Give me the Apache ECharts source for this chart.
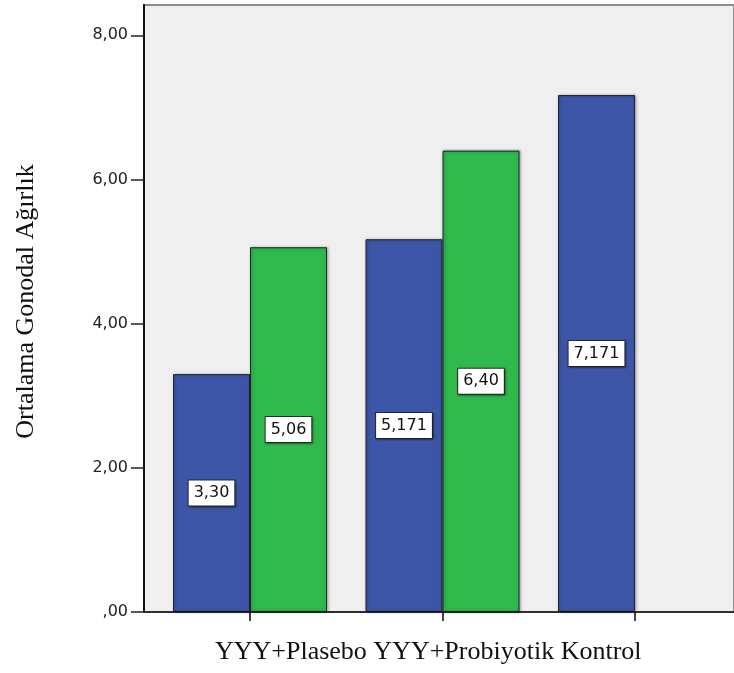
<!DOCTYPE html>
<html>
<head>
<meta charset="utf-8">
<script src="https://cdn.jsdelivr.net/npm/echarts@6/dist/echarts.min.js"></script>
<style>
  html, body { margin: 0; padding: 0; background: #ffffff; }
  #chart { width: 734px; height: 673px; }
</style>
</head>
<body>
<div id="chart"></div>
<script>
// Group names along the horizontal axis
const categories = ['YYY+Plasebo', 'YYY+Probiyotik', 'Kontrol'];
// Mean gonadal weight per group, as printed in the bar labels
const blueLabels = ['3,30', '5,171', '7,171'];
const greenLabels = ['5,06', '6,40', null];
// Vertical axis ticks
const yTickValues = [0, 2, 4, 6, 8];
const yTickLabels = [',00', '2,00', '4,00', '6,00', '8,00'];
const yMax = 8.42;
const yTitle = 'Ortalama Gonodal Ağırlık';

const toNum = s => (s === null ? null : Number(s.replace(',', '.')));
const blueValues = blueLabels.map(toNum);
const greenValues = greenLabels.map(toNum);

const chart = echarts.init(document.getElementById('chart'));

const labelStyle = labels => ({
  show: true,
  position: 'inside',
  formatter: p => labels[p.dataIndex] || '',
  color: '#111',
  fontFamily: 'DejaVu Sans',
  fontSize: 16,
  backgroundColor: '#ffffff',
  borderColor: '#2a2a2a',
  borderWidth: 1,
  padding: [5, 5, 4, 5],
  shadowColor: 'rgba(0,0,0,0.35)',
  shadowBlur: 2,
  shadowOffsetX: 1,
  shadowOffsetY: 1
});

const barItem = color => ({
  color: color,
  borderColor: '#1e2433',
  borderWidth: 1,
  shadowColor: 'rgba(0,0,0,0.35)',
  shadowBlur: 3,
  shadowOffsetX: 1
});

chart.setOption({
  animation: false,
  title: {
    text: categories.join(' '),
    left: 210,
    top: 634,
    textStyle: {
      fontFamily: 'Liberation Serif',
      fontSize: 26,
      fontWeight: 'normal',
      color: '#111'
    }
  },
  grid: [
    {
      left: 144, right: -2, top: 5, bottom: 61,
      show: true,
      backgroundColor: '#efefef',
      borderColor: '#8c8c8c',
      borderWidth: 2
    },
    { left: 153.75, width: 577.5, top: 5, bottom: 61 }
  ],
  xAxis: [
    {
      gridIndex: 0, type: 'category', data: categories,
      axisLine: { lineStyle: { color: '#111', width: 1.5 } },
      axisTick: { show: false },
      axisLabel: { show: false },
      z: 10
    },
    {
      gridIndex: 1, type: 'category', data: categories,
      axisLine: { show: false },
      axisTick: { show: true, alignWithLabel: true, length: 9, lineStyle: { color: '#444', width: 2 } },
      axisLabel: { show: false }
    }
  ],
  yAxis: [
    {
      gridIndex: 0, type: 'value', min: 0, max: yMax,
      axisLine: { show: true, lineStyle: { color: '#111', width: 2 } },
      axisTick: { show: true, length: 13, customValues: yTickValues, lineStyle: { color: '#222', width: 1.5 } },
      axisLabel: {
        customValues: yTickValues,
        formatter: v => yTickLabels[yTickValues.indexOf(v)] || '',
        margin: 16,
        color: '#222',
        fontFamily: 'DejaVu Sans',
        fontSize: 16
      },
      splitLine: { show: false },
      name: yTitle,
      nameLocation: 'middle',
      nameRotate: 90,
      nameGap: 105,
      nameTextStyle: { fontFamily: 'Liberation Serif', fontSize: 26, color: '#111', padding: [0, 0, 0, 14] },
      z: 10
    },
    { gridIndex: 1, type: 'value', min: 0, max: yMax, show: false }
  ],
  series: [
    {
      type: 'bar', xAxisIndex: 1, yAxisIndex: 1,
      data: blueValues,
      barGap: '0%', barCategoryGap: '20%',
      itemStyle: barItem('#3d55a7'),
      label: labelStyle(blueLabels)
    },
    {
      type: 'bar', xAxisIndex: 1, yAxisIndex: 1,
      data: greenValues,
      barGap: '0%', barCategoryGap: '20%',
      itemStyle: barItem('#2fb84b'),
      label: labelStyle(greenLabels)
    }
  ]
});
</script>
</body>
</html>
